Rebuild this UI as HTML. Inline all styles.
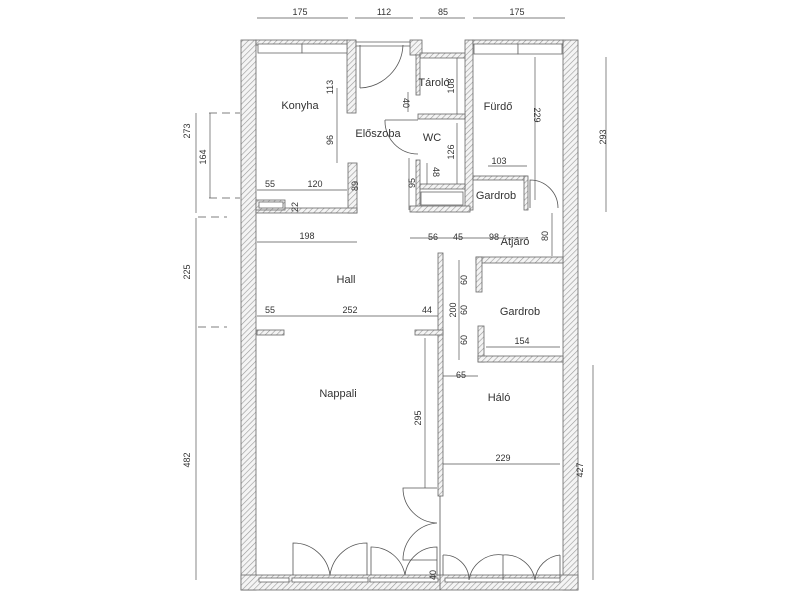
<!DOCTYPE html>
<html><head><meta charset="utf-8"><style>
html,body{margin:0;padding:0;background:#fff;}
svg{display:block;}
text{font-family:"Liberation Sans",sans-serif;fill:#333;}
</style></head><body>
<svg width="800" height="600" viewBox="0 0 800 600" xmlns="http://www.w3.org/2000/svg">
<defs>
<pattern id="h" width="4" height="4" patternUnits="userSpaceOnUse" patternTransform="rotate(45)">
<rect width="4" height="4" fill="#f4f4f4"/><line x1="0" y1="0" x2="0" y2="4" stroke="#999" stroke-width="1.2"/>
</pattern>
</defs>
<rect width="800" height="600" fill="#fff"/>
<g fill="url(#h)" stroke="#666" stroke-width="0.8">
<!-- outer walls -->
<rect x="241" y="40" width="15" height="550"/>
<rect x="563" y="40" width="15" height="550"/>
<rect x="241" y="575" width="337" height="15"/>
<!-- top -->
<rect x="256" y="40" width="92" height="5"/>
<rect x="347" y="40" width="9" height="73"/>
<rect x="410" y="40" width="12" height="15"/>
<rect x="420" y="53" width="47" height="5"/>
<rect x="465" y="40" width="8" height="170"/>
<rect x="473" y="40" width="90" height="5"/>
<!-- konyha lower -->
<rect x="348" y="163" width="9" height="50"/>
<rect x="256" y="208" width="101" height="5"/>
<rect x="256" y="200" width="29" height="10"/>
<!-- Tarolo/WC -->
<rect x="416" y="55" width="4" height="40"/>
<rect x="418" y="114" width="47" height="5"/>
<rect x="416" y="160" width="4" height="52"/>
<rect x="420" y="184" width="45" height="5"/>
<rect x="410" y="206" width="60" height="6"/>
<!-- Gardrob top -->
<rect x="473" y="176" width="54" height="4"/>
<rect x="524" y="176" width="4" height="34"/>
<!-- Gardrob 2 -->
<rect x="476" y="257" width="87" height="6"/>
<rect x="476" y="257" width="6" height="35"/>
<rect x="478" y="326" width="6" height="36"/>
<rect x="478" y="356" width="85" height="6"/>
<!-- partition -->
<rect x="438" y="253" width="5" height="243"/>
<rect x="257" y="330" width="27" height="5"/>
<rect x="415" y="330" width="28" height="5"/>
</g>
<!-- windows -->
<g fill="#fff" stroke="#666" stroke-width="0.8">
<rect x="258" y="44" width="44" height="9"/><rect x="302" y="44" width="45" height="9"/>
<rect x="474" y="44" width="44" height="10"/><rect x="518" y="44" width="44" height="10"/>
<rect x="259" y="578" width="30" height="4"/><rect x="292" y="578" width="76" height="4"/><rect x="370" y="578" width="68" height="4"/><rect x="445" y="578" width="115" height="4"/>
<rect x="421" y="192" width="42" height="13"/><rect x="259" y="202" width="24" height="6"/>
<rect x="356" y="42" width="54" height="4"/>
</g>
<!-- doors -->
<g fill="none" stroke="#555" stroke-width="0.8">
<path d="M360 88 V45 M360 88 A45 45 0 0 0 403 45"/>
<path d="M385 120 H418 M385 120 A33 33 0 0 0 418 154"/>
<path d="M530 208 V180 A28 28 0 0 1 558 208"/>
<path d="M293 575 V543 A37 37 0 0 1 330 575 M367 575 V543 A37 37 0 0 0 330 575"/>
<path d="M371 575 V547 A34 34 0 0 1 405 575 M437 575 V547 A32 32 0 0 0 405 575"/>
<path d="M437 488 H403 A35 35 0 0 0 437 523 M437 560 H403 A37 37 0 0 1 437 523"/>
<path d="M443 555 A25 25 0 0 1 469 580 M443 555 V575 M503 555 V580 M469 580 A30 30 0 0 1 503 555 A30 30 0 0 1 535 580 M560 555 V578 M535 580 A28 28 0 0 1 560 555"/>
<line x1="440" y1="496" x2="440" y2="590"/>
</g>
<!-- dimension lines -->
<g stroke="#555" stroke-width="0.7" fill="none">
<line x1="257" y1="18" x2="348" y2="18"/><line x1="355" y1="18" x2="413" y2="18"/><line x1="420" y1="18" x2="465" y2="18"/><line x1="473" y1="18" x2="565" y2="18"/>
<line x1="210" y1="113" x2="210" y2="198"/><line x1="196" y1="113" x2="196" y2="213" stroke-dasharray="0"/>
<line x1="196" y1="218" x2="196" y2="330"/><line x1="196" y1="330" x2="196" y2="580"/>
<line x1="606" y1="57" x2="606" y2="212"/><line x1="593" y1="365" x2="593" y2="580"/>
<line x1="209" y1="113" x2="240" y2="113" stroke-dasharray="8,5"/><line x1="209" y1="198" x2="240" y2="198" stroke-dasharray="8,5"/>
<line x1="198" y1="217" x2="227" y2="217" stroke-dasharray="8,5"/><line x1="198" y1="327" x2="227" y2="327" stroke-dasharray="8,5"/>
<line x1="337" y1="88" x2="337" y2="163"/><line x1="257" y1="190" x2="347" y2="190"/>
<line x1="257" y1="242" x2="357" y2="242"/><line x1="257" y1="316" x2="438" y2="316"/>
<line x1="425" y1="338" x2="425" y2="488"/><line x1="443" y1="376" x2="478" y2="376"/>
<line x1="443" y1="464" x2="560" y2="464"/><line x1="459" y1="260" x2="459" y2="360"/>
<line x1="486" y1="347" x2="560" y2="347"/><line x1="488" y1="166" x2="527" y2="166"/>
<line x1="535" y1="57" x2="535" y2="200"/><line x1="457" y1="58" x2="457" y2="114"/><line x1="457" y1="123" x2="457" y2="184"/>
<line x1="410" y1="238" x2="470" y2="238"/><line x1="470" y1="238" x2="528" y2="238"/><line x1="552" y1="213" x2="552" y2="256"/>
<line x1="408" y1="92" x2="408" y2="112"/><line x1="427" y1="163" x2="427" y2="184"/><line x1="409" y1="158" x2="409" y2="210"/>
</g>
<g font-size="9" text-anchor="middle">
<text x="300" y="15">175</text><text x="384" y="15">112</text><text x="443" y="15">85</text><text x="517" y="15">175</text>
<text x="270" y="187">55</text><text x="315" y="187">120</text><text x="307" y="239">198</text>
<text x="270" y="313">55</text><text x="350" y="313">252</text><text x="427" y="313">44</text>
<text x="433" y="240">56</text><text x="458" y="240">45</text><text x="494" y="240">98</text>
<text x="499" y="164">103</text><text x="522" y="344">154</text><text x="461" y="378">65</text><text x="503" y="461">229</text>
<text x="190" y="131" transform="rotate(-90 190 131)">273</text>
<text x="206" y="157" transform="rotate(-90 206 157)">164</text>
<text x="190" y="272" transform="rotate(-90 190 272)">225</text>
<text x="190" y="460" transform="rotate(-90 190 460)">482</text>
<text x="606" y="137" transform="rotate(-90 606 137)">293</text>
<text x="583" y="470" transform="rotate(-90 583 470)">427</text>
<text x="333" y="87" transform="rotate(-90 333 87)">113</text>
<text x="333" y="140" transform="rotate(-90 333 140)">96</text>
<text x="358" y="186" transform="rotate(-90 358 186)">89</text>
<text x="298" y="207" transform="rotate(-90 298 207)">22</text>
<text x="454" y="86" transform="rotate(-90 454 86)">108</text>
<text x="454" y="152" transform="rotate(-90 454 152)">126</text>
<text x="534" y="115" transform="rotate(90 534 115)">229</text>
<text x="403" y="103" transform="rotate(90 403 103)">40</text>
<text x="433" y="172" transform="rotate(90 433 172)">48</text>
<text x="415" y="183" transform="rotate(-90 415 183)">95</text>
<text x="548" y="236" transform="rotate(-90 548 236)">80</text>
<text x="456" y="310" transform="rotate(-90 456 310)">200</text>
<text x="467" y="280" transform="rotate(-90 467 280)">60</text>
<text x="467" y="310" transform="rotate(-90 467 310)">60</text>
<text x="467" y="340" transform="rotate(-90 467 340)">60</text>
<text x="421" y="418" transform="rotate(-90 421 418)">295</text>
<text x="436" y="575" transform="rotate(-90 436 575)">40</text>
</g>
<g font-size="11" text-anchor="middle">
<text x="300" y="109">Konyha</text><text x="378" y="137">Előszoba</text><text x="434" y="86">Tároló</text>
<text x="432" y="141">WC</text><text x="498" y="110">Fürdő</text><text x="496" y="199">Gardrob</text>
<text x="515" y="245">Átjáró</text><text x="346" y="283">Hall</text><text x="520" y="315">Gardrob</text>
<text x="338" y="397">Nappali</text><text x="499" y="401">Háló</text>
</g>
</svg>
</body></html>
